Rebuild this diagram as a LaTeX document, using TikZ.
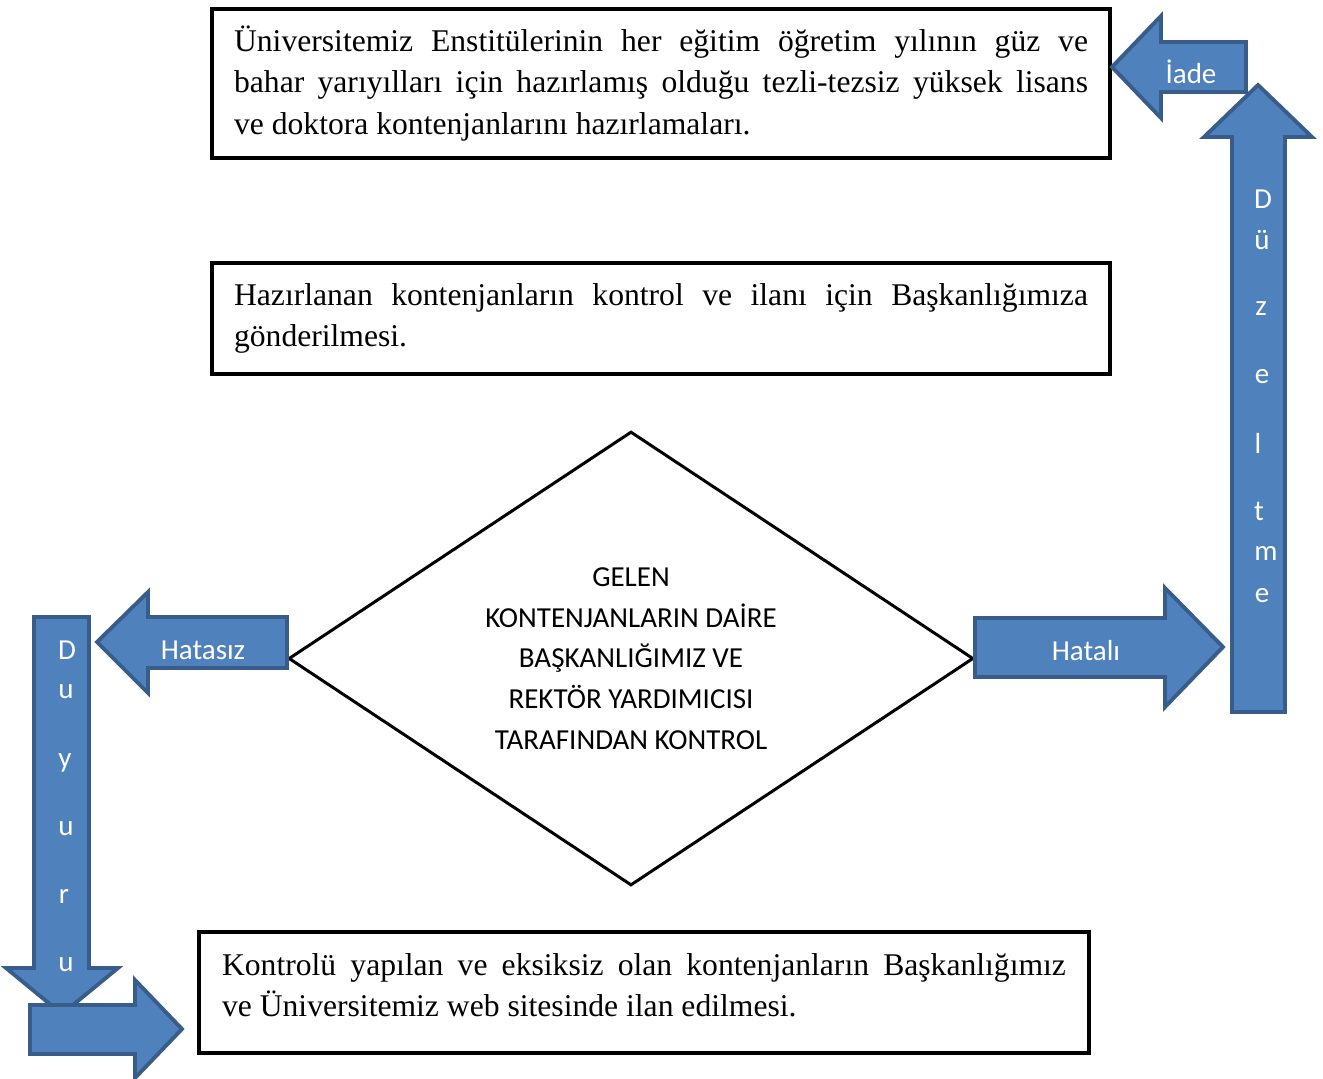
\documentclass[tikz,border=0pt]{standalone}
\usepackage{fontspec}
\setmainfont{Liberation Serif}
\newfontfamily\calibri{Carlito}
\usetikzlibrary{positioning, shapes.geometric}
\definecolor{ArrowBlue}{HTML}{4F81BD}
\definecolor{ArrowEdge}{HTML}{385D8A}

\begin{document}
\begin{tikzpicture}[
        x=0.02cm, y=-0.02cm,
        stepbox/.style={
            rectangle, draw=black, line width=2.3pt, inner sep=0pt,
            align=justify, font=\fontsize{18}{23.8}\selectfont
        },
        decision/.style={
            diamond, draw=black, line width=1.7pt, aspect=1.5, inner sep=0pt,
            minimum width=13.7cm, minimum height=9.08cm, align=center,
            font=\calibri\fontsize{16.5}{23.2}\selectfont
        },
        blockarrow/.style={fill=ArrowBlue, draw=ArrowEdge, line width=2.2pt, line join=miter},
        arrowtext/.style={text=white, inner sep=0pt, font=\calibri\fontsize{16.5}{20}\selectfont}
    ]
    \useasboundingbox (0,0) rectangle (1323,1079);

    % Boxes
    \node (prep) [stepbox, text width=17.08cm, minimum width=17.98cm, minimum height=2.98cm] at (661,83.5) {
        Üniversitemiz Enstitülerinin her eğitim öğretim yılının güz ve\linebreak
        bahar yarıyılları için hazırlamış olduğu tezli-tezsiz yüksek lisans\linebreak
        ve doktora kontenjanlarını hazırlamaları.
    };

    \node (send) [stepbox, text width=17.08cm, minimum width=17.98cm, minimum height=2.22cm] at (661,318.5) {
        Hazırlanan kontenjanların kontrol ve ilanı için Başkanlığımıza\linebreak
        gönderilmesi.
    };

    \node (ctrl) [decision] at (631,658.5) {
        GELEN\\
        KONTENJANLARIN DAİRE\\
        BAŞKANLIĞIMIZ VE\\
        REKTÖR YARDIMICISI\\
        TARAFINDAN KONTROL
    };

    \node (pub) [stepbox, text width=16.88cm, minimum width=17.8cm, minimum height=2.42cm] at (644,992.5) {
        Kontrolü yapılan ve eksiksiz olan kontenjanların Başkanlığımız\linebreak
        ve Üniversitemiz web sitesinde ilan edilmesi.\rule[-0.3cm]{0pt}{0pt}
    };

    % Right side: Hatali -> Duzeltme -> Iade
    \draw [blockarrow] (975,618) -- (1165,618) -- (1165,588) -- (1223,647) -- (1165,707) -- (1165,677) -- (975,677) -- cycle;
    \node (hatali) [arrowtext] at (1086,651) {Hatalı};

    \draw [blockarrow] (1112,67) -- (1161,16) -- (1161,42) -- (1246,42) -- (1246,92) -- (1161,92) -- (1161,118) -- cycle;
    \node (iade) [arrowtext] at (1191,72) {İade};

    \draw [blockarrow] (1258,85) -- (1312,137) -- (1285,137) -- (1285,712) -- (1232,712) -- (1232,137) -- (1204,137) -- cycle;
    \node (z1) [arrowtext] at (1263,199) {D};
    \node (z2) [arrowtext] at (1262,240) {ü};
    \node (z3) [arrowtext] at (1261,309) {z};
    \node (z4) [arrowtext] at (1262,377) {e};
    \node (z5) [arrowtext] at (1258,443) {l};
    \node (z6) [arrowtext] at (1259,511) {t};
    \node (z7) [arrowtext] at (1266,553) {m};
    \node (z8) [arrowtext] at (1262,596) {e};

    % Left side: Hatasiz -> Duyuru -> box
    \draw [blockarrow] (97,642) -- (148,592) -- (148,617) -- (287,617) -- (287,668) -- (148,668) -- (148,693) -- cycle;
    \node (hatasiz) [arrowtext] at (203,650) {Hatasız};

    \draw [blockarrow] (34,617) -- (89,617) -- (89,968) -- (118,968) -- (62,1014) -- (6,968) -- (34,968) -- cycle;
    \node (y1) [arrowtext] at (67,650) {D};
    \node (y2) [arrowtext] at (66,692) {u};
    \node (y3) [arrowtext] at (65,763) {y};
    \node (y4) [arrowtext] at (66,829) {u};
    \node (y5) [arrowtext] at (64,896) {r};
    \node (y6) [arrowtext] at (66,965) {u};

    \draw [blockarrow] (30,1005) -- (135,1005) -- (135,980) -- (182,1029) -- (135,1078) -- (135,1054) -- (30,1054) -- cycle;

\end{tikzpicture}
\end{document}
